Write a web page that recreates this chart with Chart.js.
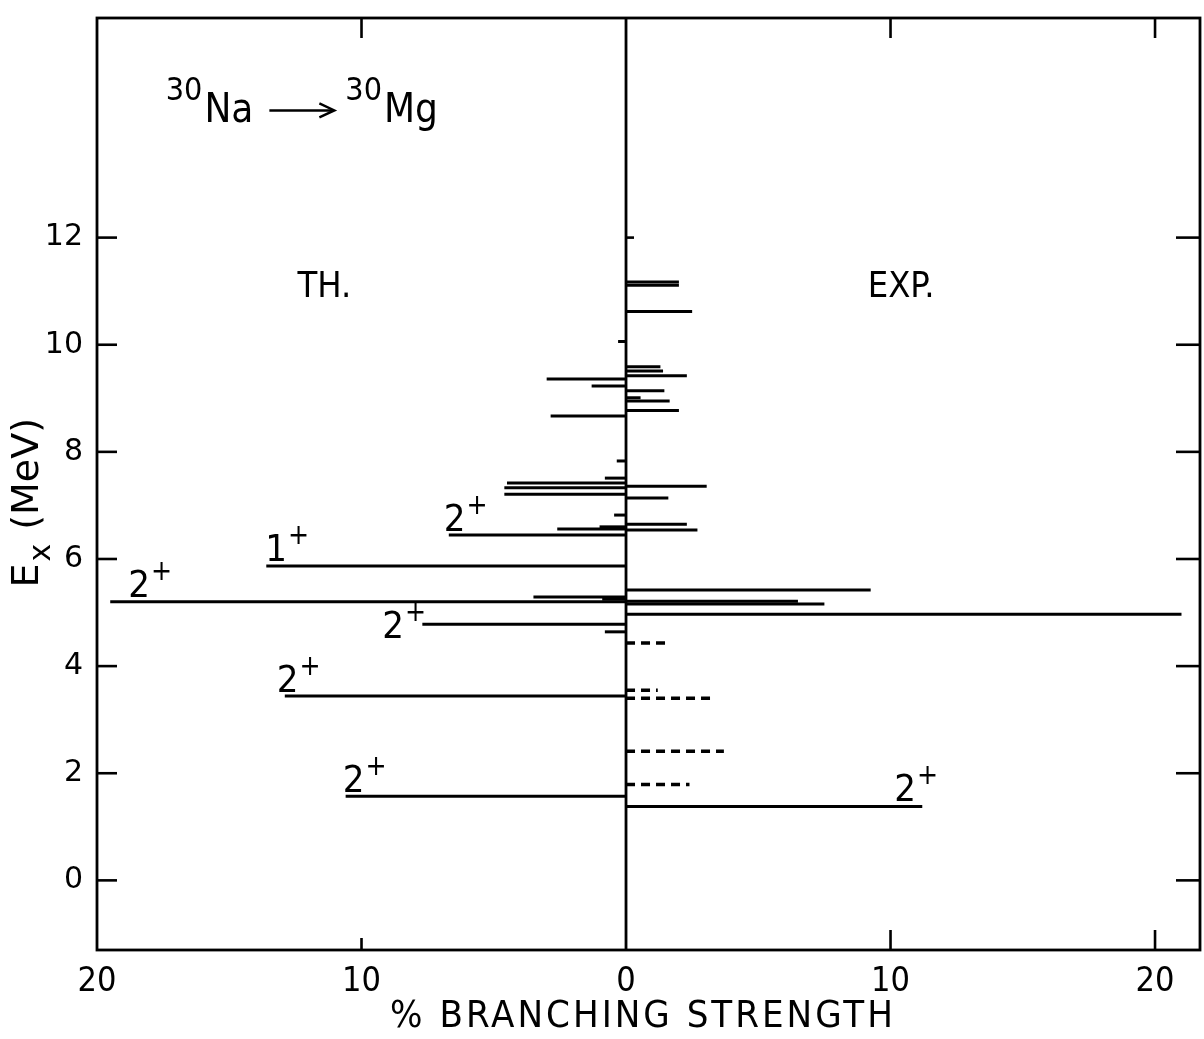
<!DOCTYPE html>
<html><head><meta charset="utf-8">
<script src="https://cdn.jsdelivr.net/npm/chart.js@4/dist/chart.umd.min.js"></script>
<style>html,body{margin:0;padding:0;background:#fff;}canvas{display:block;}</style>
</head><body>
<canvas id="c" width="1204" height="1039"></canvas>
<script>
// ---- data (Ex in MeV, % branching strength) ----
const thEnergy   = [1.57, 3.44, 4.64, 4.78, 5.20, 5.25, 5.29, 5.87, 6.45, 6.56, 6.60, 6.82, 7.21, 7.33, 7.42, 7.51, 7.83, 8.67, 9.23, 9.36, 10.06];
const thStrength = [10.6, 12.9, 0.8, 7.7, 19.5, 0.9, 3.5, 13.6, 6.7, 2.6, 1.0, 0.45, 4.6, 4.6, 4.5, 0.8, 0.35, 2.85, 1.3, 3.0, 0.3];
const expEnergy   = [1.38, 4.97, 5.16, 5.21, 5.42, 6.54, 6.65, 7.14, 7.36, 8.77, 8.95, 9.01, 9.14, 9.42, 9.51, 9.59, 10.62, 11.11, 11.17];
const expStrength = [11.2, 21.0, 7.5, 6.5, 9.25, 2.7, 2.3, 1.6, 3.05, 2.0, 1.65, 0.55, 1.45, 2.3, 1.4, 1.3, 2.5, 2.0, 2.0];
const expDashedEnergy   = [1.79, 2.41, 3.40, 3.55, 4.43];
const expDashedStrength = [2.4, 3.7, 3.4, 1.2, 1.6];
const xTickValues = [-20, -10, 0, 10, 20];
const yTickValues = [0, 2, 4, 6, 8, 10, 12];
// spin labels: which theory / experiment level they belong to
const spinLabels = [
  {side: 'th', level: 4, text: '2', sup: '+'},
  {side: 'th', level: 7, text: '1', sup: '+'},
  {side: 'th', level: 8, text: '2', sup: '+'},
  {side: 'th', level: 3, text: '2', sup: '+'},
  {side: 'th', level: 1, text: '2', sup: '+'},
  {side: 'th', level: 0, text: '2', sup: '+'},
  {side: 'exp', level: 0, text: '2', sup: '+'}
];
// label offsets (style)
const spinOffsets = [[18,-5],[-1,-5],[-5,-4],[-40,14],[-8,-4],[-3,-4],[-28,-5]];

const FONT = '"DejaVu Sans Condensed","Liberation Sans Narrow","DejaVu Sans",sans-serif';
const datasets = [];
function addLevel(E, v, dashed) {
  datasets.push({
    data: [{x: 0, y: E}, {x: v, y: E}],
    showLine: true, pointRadius: 0, borderColor: '#000',
    borderWidth: dashed ? 3.5 : 3,
    borderDash: dashed ? [9, 6] : [],
    borderCapStyle: 'butt'
  });
}
thEnergy.forEach((E, i) => addLevel(E, -thStrength[i], false));
expEnergy.forEach((E, i) => addLevel(E, expStrength[i], false));
expDashedEnergy.forEach((E, i) => addLevel(E, expDashedStrength[i], true));

const deco = {
  id: 'deco',
  afterDraw(chart) {
    const ctx = chart.ctx, a = chart.chartArea;
    const xs = chart.scales.x, ys = chart.scales.y;
    ctx.save();
    ctx.strokeStyle = '#000';
    ctx.fillStyle = '#000';
    ctx.lineWidth = 2.8;
    ctx.strokeRect(a.left, a.top, a.right - a.left, a.bottom - a.top);
    const x0 = xs.getPixelForValue(0);
    ctx.beginPath(); ctx.moveTo(x0, a.top); ctx.lineTo(x0, a.bottom); ctx.stroke();
    // inward ticks
    ctx.lineWidth = 2.6;
    yTickValues.forEach(v => {
      const y = ys.getPixelForValue(v);
      ctx.beginPath(); ctx.moveTo(a.left, y); ctx.lineTo(a.left + 20, y); ctx.stroke();
      ctx.beginPath(); ctx.moveTo(a.right, y); ctx.lineTo(a.right - 24, y); ctx.stroke();
    });
    xTickValues.forEach(v => {
      if (v === 0 || v === -20) return;
      const x = xs.getPixelForValue(v);
      const lb = v === -10 ? 12 : 20;
      ctx.beginPath(); ctx.moveTo(x, a.bottom); ctx.lineTo(x, a.bottom - lb); ctx.stroke();
      ctx.beginPath(); ctx.moveTo(x, a.top); ctx.lineTo(x, a.top + 20); ctx.stroke();
    });
    // small mark on the centre line
    const y12 = ys.getPixelForValue(12);
    ctx.beginPath(); ctx.moveTo(x0, y12); ctx.lineTo(x0 + 8, y12); ctx.stroke();
    // panel labels
    ctx.textBaseline = 'alphabetic';
    ctx.font = '36px ' + FONT;
    ctx.textAlign = 'center';
    ctx.fillText('TH.', xs.getPixelForValue(-11.4), ys.getPixelForValue(10.9));
    ctx.fillText('EXP.', xs.getPixelForValue(10.4), ys.getPixelForValue(10.9));
    // reaction title
    ctx.textAlign = 'left';
    let px = xs.getPixelForValue(-17.4);
    const by = ys.getPixelForValue(14.15);
    ctx.font = '32px ' + FONT; ctx.fillText('30', px, by - 22); px += ctx.measureText('30').width + 2;
    ctx.font = '40px ' + FONT; ctx.fillText('Na', px, by); px += ctx.measureText('Na').width + 16;
    ctx.lineWidth = 2.4;
    ctx.beginPath(); ctx.moveTo(px, by - 12); ctx.lineTo(px + 64, by - 12); ctx.stroke();
    ctx.beginPath(); ctx.moveTo(px + 50, by - 19); ctx.lineTo(px + 65, by - 12); ctx.lineTo(px + 50, by - 5); ctx.stroke();
    px += 76;
    ctx.font = '32px ' + FONT; ctx.fillText('30', px, by - 22); px += ctx.measureText('30').width + 2;
    ctx.font = '40px ' + FONT; ctx.fillText('Mg', px, by);
    // spin labels
    spinLabels.forEach((s, i) => {
      let xp, yp;
      if (s.side === 'th') {
        xp = xs.getPixelForValue(-thStrength[s.level]);
        yp = ys.getPixelForValue(thEnergy[s.level]);
      } else {
        xp = xs.getPixelForValue(expStrength[s.level]);
        yp = ys.getPixelForValue(expEnergy[s.level]);
      }
      const lx = xp + spinOffsets[i][0], ly = yp + spinOffsets[i][1];
      ctx.font = '38px ' + FONT;
      ctx.fillText(s.text, lx, ly);
      const w = ctx.measureText(s.text).width;
      ctx.font = '28px ' + FONT;
      ctx.fillText(s.sup, lx + w + 1, ly - 17);
    });
    // x title
    ctx.font = '38px ' + FONT;
    ctx.textAlign = 'center';
    ctx.letterSpacing = '3px';
    ctx.fillText('% BRANCHING STRENGTH', 643, a.bottom + 77);
    ctx.letterSpacing = '0px';
    // y title
    ctx.save();
    ctx.translate(a.left - 59, ys.getPixelForValue(7.05));
    ctx.rotate(-Math.PI / 2);
    ctx.textAlign = 'left';
    ctx.font = '38px "DejaVu Sans",sans-serif';
    const ew = ctx.measureText('E').width, mw = ctx.measureText('(MeV)').width;
    ctx.font = '30px "DejaVu Sans",sans-serif';
    const xw = ctx.measureText('x').width;
    const total = ew + 2 + xw + 14 + mw;
    let t = -total / 2;
    ctx.font = '38px "DejaVu Sans",sans-serif';
    ctx.fillText('E', t, 0); t += ew + 2;
    ctx.font = '30px "DejaVu Sans",sans-serif';
    ctx.fillText('x', t, 12); t += xw + 14;
    ctx.font = '38px "DejaVu Sans",sans-serif';
    ctx.fillText('(MeV)', t, 0);
    ctx.restore();
    ctx.restore();
  }
};

new Chart(document.getElementById('c'), {
  type: 'scatter',
  data: {datasets},
  options: {
    responsive: false, animation: false, devicePixelRatio: 1,
    layout: {padding: {top: 18, right: 4, left: 0, bottom: 0}},
    plugins: {legend: {display: false}, tooltip: {enabled: false}},
    scales: {
      x: {
        type: 'linear', min: -20, max: 21.7,
        afterBuildTicks: s => { s.ticks = xTickValues.map(v => ({value: v})); },
        afterFit: s => { s.height = 89; s.paddingLeft = 0; s.paddingRight = 0; },
        grid: {display: false, drawTicks: false}, border: {display: false},
        ticks: {color: '#000', padding: 12, maxRotation: 0, autoSkip: false,
          font: {family: FONT, size: 34}, callback: v => String(Math.abs(v))}
      },
      y: {
        type: 'linear', min: -1.3, max: 16.1,
        afterBuildTicks: s => { s.ticks = yTickValues.map(v => ({value: v})); },
        afterFit: s => { s.width = 97; s.paddingTop = 0; s.paddingBottom = 0; },
        grid: {display: false, drawTicks: false}, border: {display: false},
        ticks: {color: '#000', padding: 14, autoSkip: false,
          font: {family: '"DejaVu Sans",sans-serif', size: 30}, callback: v => String(v)}
      }
    }
  },
  plugins: [deco]
});
</script>
</body></html>
